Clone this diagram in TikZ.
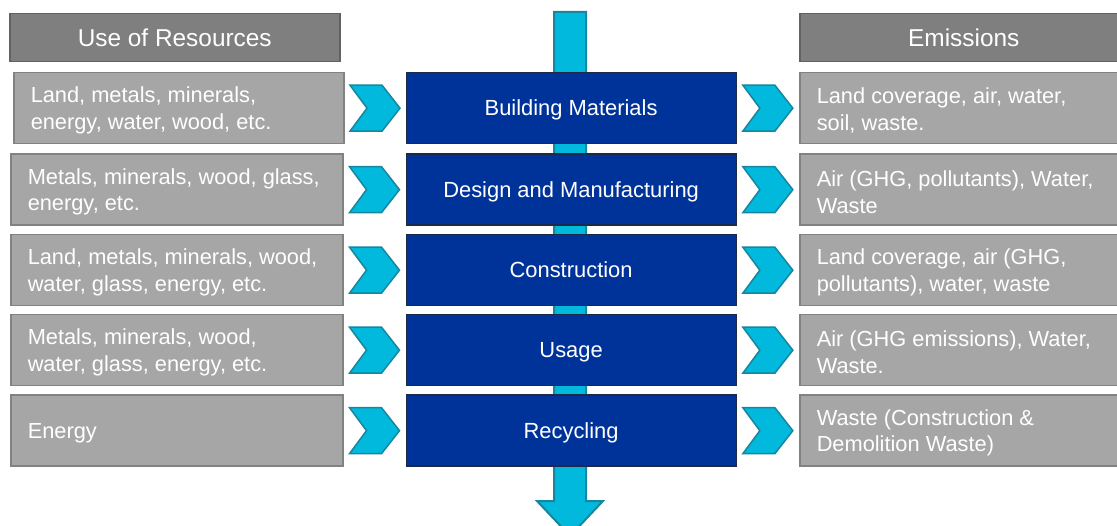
\documentclass[tikz,border=0pt]{standalone}
\usepackage{fontspec}
\setmainfont{Liberation Sans}
\usetikzlibrary{calc}
\definecolor{hdr}{HTML}{7F7F7F}
\definecolor{hdrb}{HTML}{626262}
\definecolor{lgt}{HTML}{A6A6A6}
\definecolor{lgtb}{HTML}{828282}
\definecolor{blu}{HTML}{003399}
\definecolor{blub}{HTML}{1C2A4A}
\definecolor{cyn}{HTML}{00B9DC}
\definecolor{cynb}{HTML}{17869E}
\newcommand\restext[2][298pt]{\parbox{#1}{\vspace*{4.5pt}\raggedright #2}}
\begin{document}
\begin{tikzpicture}[x=1pt,y=-1pt,
  hdrbox/.style={draw=hdrb, fill=hdr, line width=1.5pt, minimum width=330pt, minimum height=48pt,
    inner sep=0pt, text=white, font=\fontsize{24.4}{28}\selectfont, anchor=north west,
    text height=22pt, text depth=4.6pt},
  resbox/.style={draw=lgtb, fill=lgt, line width=1.5pt, minimum height=71pt,
    inner xsep=17pt, inner ysep=0pt, text=white,
    font=\fontsize{21.8}{26.6}\selectfont, anchor=north west},
  stagebox/.style={draw=blub, fill=blu, line width=1.2pt, minimum width=330pt, minimum height=71pt,
    inner sep=0pt, text=white, font=\fontsize{21.9}{26}\selectfont, anchor=north west,
    text height=20pt, text depth=4.6pt},
  chev/.style={draw=cynb, fill=cyn, line width=1.5pt, line join=miter},
  flow/.style={draw=cynb, fill=cyn, line width=2pt, line join=miter}
]
\clip (0,0) rectangle (1117,526);
\useasboundingbox (0,0) rectangle (1117,526);

% vertical flow arrow (behind the stages)
\coordinate (vtop) at (570,12);
\coordinate (vhead) at (570,501);
\path[flow] ($(vtop)+(-16,0)$) -- ($(vtop)+(16,0)$) -- ($(vhead)+(16,0)$) -- ($(vhead)+(33,0)$)
  -- ($(vhead)+(0,35)$) -- ($(vhead)+(-33,0)$) -- ($(vhead)+(-16,0)$) -- cycle;

% headers
\node[hdrbox] (hres) at (9,13) {Use of Resources};
\node[hdrbox, minimum width=328pt] (hem) at (799,13) {Emissions};

% resources
\node[resbox] (l1) at (13,72) {\restext[296pt]{Land, metals, minerals,\\energy, water, wood, etc.}};
\node[resbox] (l2) at (10,153.5) {\restext{Metals, minerals, wood, glass,\\energy, etc.}};
\node[resbox] (l3) at (10,234) {\restext{Land, metals, minerals, wood,\\water, glass, energy, etc.}};
\node[resbox] (l4) at (10,314) {\restext{Metals, minerals, wood,\\water, glass, energy, etc.}};
\node[resbox] (l5) at (10,394.5) {\restext{Energy}};

% stages
\node[stagebox] (c1) at (405.5,72) {Building Materials};
\node[stagebox] (c2) at (405.5,153.5) {Design and Manufacturing};
\node[stagebox] (c3) at (405.5,234) {Construction};
\node[stagebox] (c4) at (405.5,314) {Usage};
\node[stagebox] (c5) at (405.5,394.5) {Recycling};

% emissions
\node[resbox] (r1) at (799,72) {\restext[294pt]{Land coverage, air, water,\\soil, waste.}};
\node[resbox] (r2) at (799,153.5) {\restext[294pt]{Air (GHG, pollutants), Water,\\Waste}};
\node[resbox] (r3) at (799,234) {\restext[294pt]{Land coverage, air (GHG,\\pollutants), water, waste}};
\node[resbox] (r4) at (799,314) {\restext[294pt]{Air (GHG emissions), Water,\\Waste.}};
\node[resbox] (r5) at (799,394.5) {\restext[294pt]{Waste (Construction \&\\Demolition Waste)}};

% chevrons
\foreach \i in {1,...,5}{
  \coordinate (a\i) at ($(l\i.east)!0.5!(c\i.west)$);
  \coordinate (b\i) at ($(c\i.east)!0.5!(r\i.west)$);
  \foreach \m in {a\i,b\i}{
    \path[chev] ($(\m)+(-25,-23)$) -- ($(\m)+(7,-23)$) -- ($(\m)+(25,0)$) -- ($(\m)+(7,23)$)
      -- ($(\m)+(-25,23)$) -- ($(\m)+(-8,0)$) -- cycle;
  }
}
\end{tikzpicture}
\end{document}
